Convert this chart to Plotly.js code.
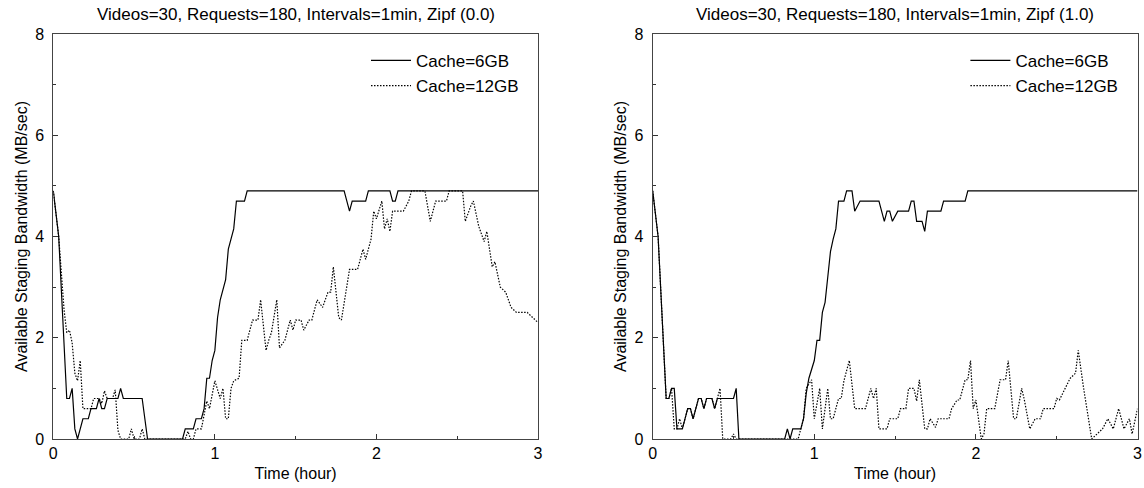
<!DOCTYPE html>
<html>
<head>
<meta charset="utf-8">
<script src="https://cdn.plot.ly/plotly-3.0.1.min.js"></script>
<style>html,body{margin:0;padding:0;background:#fff;}#chart{width:1144px;height:488px;}</style>
</head>
<body>
<div id="chart"></div>
<script>
// Time in minutes, bandwidth in MB/sec
const leftTitle = "Videos=30, Requests=180, Intervals=1min, Zipf (0.0)";
const rightTitle = "Videos=30, Requests=180, Intervals=1min, Zipf (1.0)";
const seriesNames = ["Cache=6GB", "Cache=12GB"];
const xTickVals = [0, 1, 2, 3];
const yTickVals = [0, 2, 4, 6, 8];

const left6Min = [0,1,2,5,6,7,8,9,11,13,14,16,17,18,19,20,24,25,26,33,34,35,48,49,52,53,55,56,57,58,59,60,61,62,64,65,67,68,71,72,108,110,111,116,117,125,126,127,128,180];
const left6Val = [4.9,4.5,4.0,0.8,0.8,1.0,0.2,0,0.4,0.4,0.6,0.6,0.8,0.6,0.6,0.8,0.8,1.0,0.8,0.8,0.4,0,0,0.2,0.2,0.4,0.4,0.6,1.2,1.2,1.55,1.75,2.4,2.75,3.15,3.75,4.15,4.7,4.7,4.9,4.9,4.5,4.7,4.7,4.9,4.9,4.7,4.7,4.9,4.9];

const left12Min = [0,1,2,4,5,6,7,8,9,10,11,14,15,17,18,19,20,22,23,24,25,28,29,30,32,33,34,49,50,51,52,53,55,57,58,60,62,63,64,65,66,67,69,70,72,74,76,77,79,80,81,83,84,86,88,89,90,92,93,95,96,98,100,102,103,104,106,107,110,113,115,116,118,119,120,122,123,124,125,126,130,132,133,138,140,141,142,146,147,152,153,155,156,158,160,161,163,164,166,168,170,172,176,180];
const left12Val = [4.9,4.5,4.0,2.55,2.1,2.15,1.9,1.3,1.15,1.55,0.6,0.6,0.8,0.8,0.7,0.95,0.8,0.8,0.97,0.17,0,0,0.2,0,0,0.2,0,0,0.15,0,0,0.2,0.2,0.75,0.6,1.15,0.8,1.0,0.4,0.4,1.0,1.15,1.2,1.95,1.95,2.35,2.35,2.75,1.75,1.95,2.1,2.75,1.8,1.95,2.35,2.15,2.35,2.35,2.15,2.35,2.35,2.75,2.6,2.9,2.9,3.4,2.4,2.35,3.35,3.35,3.75,3.55,3.95,4.5,4.35,4.7,4.15,4.35,4.1,4.5,4.5,4.7,4.9,4.9,4.3,4.5,4.7,4.7,4.9,4.9,4.3,4.6,4.7,4.2,3.9,4.1,3.4,3.5,3.0,2.9,2.6,2.5,2.5,2.3];

const right6Min = [0,1,2,5,6,7,8,9,11,13,14,15,17,18,19,20,22,23,24,30,31,32,49,50,51,52,55,56,57,58,60,61,62,63,64,65,66,67,68,69,71,72,74,75,77,84,86,87,88,89,91,95,96,97,98,100,101,102,107,108,116,117,180];
const right6Val = [4.9,4.5,4.0,0.8,0.8,1.0,1.0,0.2,0.2,0.6,0.6,0.4,0.8,0.8,0.6,0.8,0.8,0.6,0.8,0.8,1.0,0,0,0.2,0,0.2,0.2,0.4,0.9,1.2,1.55,1.95,1.95,2.5,2.7,3.2,3.7,3.95,4.15,4.7,4.7,4.9,4.9,4.5,4.7,4.7,4.3,4.5,4.5,4.3,4.5,4.5,4.7,4.7,4.3,4.3,4.1,4.5,4.5,4.7,4.7,4.9,4.9];

const right12Min = [0,1,2,5,6,7,8,9,10,11,12,13,14,15,17,18,19,20,22,23,24,25,26,29,30,31,54,55,56,57,59,60,62,63,65,66,67,69,70,71,73,75,79,81,82,83,84,87,88,91,92,94,95,97,98,99,101,102,103,105,106,110,111,113,114,116,117,118,119,120,121,122,123,124,127,129,131,132,134,135,137,138,140,142,144,145,149,150,151,153,155,157,158,160,163,165,167,169,171,173,175,177,178,180];
const right12Val = [4.9,4.5,4.0,0.8,0.8,1.0,0.2,0.2,0.4,0.2,0.4,0.6,0.6,0.4,0.8,0.8,0.6,0.8,0.8,0.6,0.8,1.0,0,0,0.1,0,0,0.2,0.4,1.0,1.17,0.4,1.0,0.2,1.0,0.4,0.4,0.8,0.8,1.15,1.55,0.6,0.6,1.0,0.8,1.0,0.2,0.2,0.4,0.4,0.6,0.6,1.0,1.0,0.75,1.17,0.2,0.2,0.4,0.23,0.4,0.4,0.6,0.77,0.77,1.17,1.17,1.55,0.6,0.77,0.4,0,0.1,0.6,0.6,1.17,1.17,1.55,0.4,0.4,1.0,0.77,0.2,0.4,0.4,0.6,0.6,0.8,0.77,1.0,1.2,1.3,1.75,1.0,0,0.1,0.2,0.4,0.2,0.6,0.2,0.4,0.1,0.6];

const toHours = a => a.map(m => m / 60);

const solid = {color: '#000', width: 1.2, dash: 'solid'};
const dotted = {color: '#000', width: 1.2, dash: '1.5px,1.5px'};

const traces = [
  {x: toHours(left6Min), y: left6Val, name: seriesNames[0], mode: 'lines', line: solid, xaxis: 'x', yaxis: 'y', legend: 'legend'},
  {x: toHours(left12Min), y: left12Val, name: seriesNames[1], mode: 'lines', line: dotted, xaxis: 'x', yaxis: 'y', legend: 'legend'},
  {x: toHours(right6Min), y: right6Val, name: seriesNames[0], mode: 'lines', line: solid, xaxis: 'x2', yaxis: 'y2', legend: 'legend2'},
  {x: toHours(right12Min), y: right12Val, name: seriesNames[1], mode: 'lines', line: dotted, xaxis: 'x2', yaxis: 'y2', legend: 'legend2'}
];

const font = {family: 'Liberation Sans, Arial, sans-serif', size: 16, color: '#000'};
const W = 1144;
const L1 = [53.3 / W, 538 / W];
const L2 = [652.7 / W, 1137.5 / W];

function xAxis(domain, anchor) {
  return {
    domain: domain, anchor: anchor, range: [0, 3], tickvals: xTickVals,
    ticks: 'inside', ticklen: 5, tickcolor: '#333', showgrid: false, zeroline: false,
    showline: true, linecolor: '#444', linewidth: 1, mirror: true,
    minor: {dtick: 0.5, ticks: 'inside', ticklen: 3, tickcolor: '#333', showgrid: false},
    tickfont: {size: 16}, title: {text: 'Time (hour)', font: {size: 16}, standoff: 6},
    automargin: false, fixedrange: true
  };
}
function yAxis(anchor) {
  return {
    domain: [0, 1], anchor: anchor, range: [0, 8], tickvals: yTickVals,
    ticks: 'inside', ticklen: 5, tickcolor: '#333', showgrid: false, zeroline: false,
    showline: true, linecolor: '#444', linewidth: 1, mirror: true,
    minor: {dtick: 1, ticks: 'inside', ticklen: 3, tickcolor: '#333', showgrid: false},
    tickfont: {size: 16}, ticklabelstandoff: 5,
    title: {text: 'Available Staging Bandwidth (MB/sec)', font: {size: 16}, standoff: 3},
    automargin: false, fixedrange: true
  };
}

const legendBase = {
  xanchor: 'left', yanchor: 'top', bgcolor: 'rgba(0,0,0,0)', borderwidth: 0,
  font: {size: 17}, tracegroupgap: 0, itemwidth: 40
};

const layout = {
  width: 1144, height: 488,
  margin: {l: 0, r: 0, t: 34, b: 49.3, pad: 0},
  paper_bgcolor: '#fff', plot_bgcolor: '#fff',
  font: font, showlegend: true,
  xaxis: xAxis(L1, 'y'), yaxis: yAxis('x'),
  xaxis2: xAxis(L2, 'y2'), yaxis2: yAxis('x2'),
  legend: Object.assign({}, legendBase, {x: 366 / W, y: 0.978}),
  legend2: Object.assign({}, legendBase, {x: (366 + 599.4) / W, y: 0.978}),
  annotations: [
    {text: leftTitle, xref: 'paper', yref: 'paper', x: (L1[0] + L1[1]) / 2, y: 1 + 19 / 404.7, xanchor: 'center', yanchor: 'middle', showarrow: false, font: {size: 17}},
    {text: rightTitle, xref: 'paper', yref: 'paper', x: (L2[0] + L2[1]) / 2, y: 1 + 19 / 404.7, xanchor: 'center', yanchor: 'middle', showarrow: false, font: {size: 17}}
  ]
};

Plotly.newPlot('chart', traces, layout, {displayModeBar: false, staticPlot: true});
</script>
</body>
</html>
